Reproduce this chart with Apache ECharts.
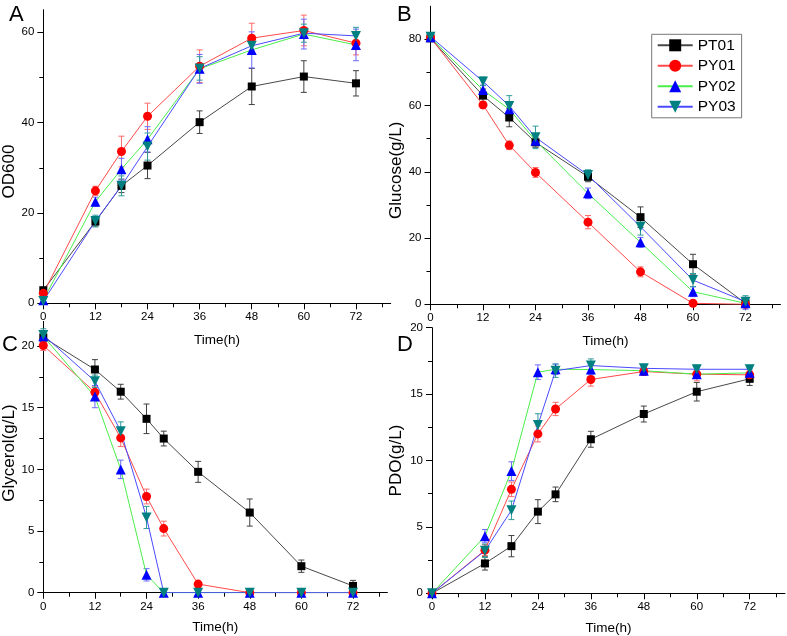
<!DOCTYPE html>
<html><head><meta charset="utf-8">
<script src="https://cdn.jsdelivr.net/npm/echarts@6/dist/echarts.min.js"></script>
<style>html,body{margin:0;padding:0;background:#fff}#c{width:787px;height:636px}</style>
</head><body><div id="c"></div>
<script>
const FONT = '"Liberation Sans", Arial, sans-serif';

// ---- data ----
const strains = ['PT01', 'PY01', 'PY02', 'PY03'];
const timesAB = [0, 12, 18, 24, 36, 48, 60, 72];
const timesCD = [0, 12, 18, 24, 28, 36, 48, 60, 72];
const xTickLabels = [0, 12, 24, 36, 48, 60, 72];
const xMinorTicks = [6, 18, 30, 42, 54, 66, 78];

// A: OD600
const odPT01 = [2.9, 18.1, 26.0, 30.5, 40.1, 48.0, 50.2, 48.7];
const odPY01 = [2.2, 24.9, 33.6, 41.4, 52.5, 58.7, 60.4, 57.6];
const odPY02 = [0.7, 22.5, 29.7, 36.3, 51.9, 56.1, 59.6, 57.2];
const odPY03 = [0.5, 18.2, 26.0, 34.7, 52.0, 57.0, 59.8, 59.2];
const odPT01Err = [0.5, 1.0, 1.5, 2.9, 2.5, 4.0, 3.5, 2.8];
const odPY01Err = [0.5, 1.0, 3.4, 2.9, 3.6, 3.3, 3.4, 2.6];
const odPY02Err = [0.5, 1.0, 2.4, 2.8, 3.2, 4.0, 3.3, 3.5];
const odPY03Err = [0.5, 1.3, 2.2, 3.0, 2.6, 1.5, 2.0, 1.9];

// B: Glucose
const gluPT01 = [80.3, 63.0, 56.4, 48.9, 38.5, 26.3, 12.1, 0.3];
const gluPY01 = [80.5, 60.2, 48.0, 39.8, 24.8, 9.8, 0.3, 0];
const gluPY02 = [80.6, 64.7, 58.9, 49.4, 33.5, 18.7, 3.8, 0.3];
const gluPY03 = [80.8, 67.3, 59.9, 50.4, 39.0, 23.4, 7.3, 0.8];
const gluPT01Err = [0.5, 2.0, 2.8, 1.5, 1.5, 3.1, 3.0, 0.8];
const gluPY01Err = [0.5, 1.0, 1.3, 1.5, 2.0, 1.5, 0.3, 0];
const gluPY02Err = [0.5, 1.5, 1.5, 1.5, 1.6, 1.5, 1.5, 1.8];
const gluPY03Err = [0.5, 1.3, 3.1, 3.4, 1.6, 2.5, 2.0, 1.8];

// C: Glycerol
const glyPT01 = [20.7, 18.1, 16.3, 14.1, 12.5, 9.8, 6.5, 2.15, 0.55];
const glyPY01 = [20.05, 16.25, 12.55, 7.8, 5.2, 0.7, 0, 0, 0];
const glyPY02 = [20.8, 15.9, 10.0, 1.45, 0, 0, 0, 0, 0];
const glyPY03 = [20.9, 17.15, 13.1, 6.1, 0, 0, 0, 0, 0];
const glyPT01Err = [0.4, 0.8, 0.6, 1.2, 0.6, 0.85, 1.1, 0.5, 0.45];
const glyPY01Err = [0.4, 0.5, 0.7, 0.6, 0.6, 0.2, 0, 0, 0];
const glyPY02Err = [0.4, 0.9, 0.75, 0.5, 0, 0, 0, 0, 0];
const glyPY03Err = [0.5, 0.5, 0.75, 0.9, 0, 0, 0, 0, 0];

// D: PDO
const pdoPT01 = [0, 2.25, 3.55, 6.15, 7.45, 11.6, 13.5, 15.18, 16.15];
const pdoPY01 = [0, 3.25, 7.83, 12.0, 13.88, 16.1, 16.7, 16.5, 16.45];
const pdoPY02 = [0, 4.3, 9.2, 16.65, 16.87, 16.85, 16.76, 16.5, 16.6];
const pdoPY03 = [0, 3.2, 6.25, 12.67, 16.76, 17.15, 16.94, 16.87, 16.87];
const pdoPT01Err = [0, 0.5, 0.8, 0.9, 0.55, 0.6, 0.6, 0.7, 0.5];
const pdoPY01Err = [0, 0.4, 0.55, 0.6, 0.5, 0.5, 0.3, 0.5, 0.3];
const pdoPY02Err = [0, 0.5, 0.7, 0.55, 0.4, 0.4, 0.3, 0.3, 0.3];
const pdoPY03Err = [0, 0.5, 0.7, 0.85, 0.5, 0.5, 0.3, 0.3, 0.3];

// y axis ticks
const yLabelsA = [0, 20, 40, 60], yMinorA = [10, 30, 50];
const yLabelsB = [0, 20, 40, 60, 80], yMinorB = [10, 30, 50, 70];
const yLabelsC = [0, 5, 10, 15, 20], yMinorC = [2.5, 7.5, 12.5, 17.5];
const yLabelsD = [0, 5, 10, 15, 20], yMinorD = [2.5, 7.5, 12.5, 17.5];

const panels = [
  { letter: 'A', times: timesAB, vals: [odPT01, odPY01, odPY02, odPY03], errs: [odPT01Err, odPY01Err, odPY02Err, odPY03Err], yMax: 65, yLabels: yLabelsA, yMinor: yMinorA, yName: 'OD600' },
  { letter: 'B', times: timesAB, vals: [gluPT01, gluPY01, gluPY02, gluPY03], errs: [gluPT01Err, gluPY01Err, gluPY02Err, gluPY03Err], yMax: 90, yLabels: yLabelsB, yMinor: yMinorB, yName: 'Glucose(g/L)' },
  { letter: 'C', times: timesCD, vals: [glyPT01, glyPY01, glyPY02, glyPY03], errs: [glyPT01Err, glyPY01Err, glyPY02Err, glyPY03Err], yMax: 22, yLabels: yLabelsC, yMinor: yMinorC, yName: 'Glycerol(g/L)' },
  { letter: 'D', times: timesCD, vals: [pdoPT01, pdoPY01, pdoPY02, pdoPY03], errs: [pdoPT01Err, pdoPY01Err, pdoPY02Err, pdoPY03Err], yMax: 20, yLabels: yLabelsD, yMinor: yMinorD, yName: 'PDO(g/L)' }
];

// ---- layout & style ----
const rects = [
  { left: 43.3, top: 9.7, width: 347.4, height: 293.6 },
  { left: 430.5, top: 6.2, width: 350, height: 298.1 },
  { left: 43.3, top: 321.4, width: 344.1, height: 271.3 },
  { left: 432, top: 327.7, width: 353, height: 265.6 }
];
const xNameGap = [30, 30, 28, 28];
const yNameGap = [21, 25, 25, 27];
const yNamePad = [[0, 30, 0, 0], [0, 30, 0, 0], [0, 0, 0, 8], [0, 0, 0, 0]];
const letterPos = [[9, 4], [397, 4], [2, 334], [397, 334]];

const lineColors = ['#484848', '#ff4a4a', '#4aee4a', '#4a4aff'];
const markerColors = ['#000000', '#ff0000', '#0000ff', '#008080'];
const errColors = ['#404040', '#ff6a6a', '#6a6aff', '#2f9a9a'];
const symbols = ['rect', 'circle', 'triangle', 'triangle'];
const symRot = [0, 0, 0, 180];
const symSize = [8, 9, 10, 10];

function errRender(params, api) {
  const x = api.value(0), y = api.value(1), e = api.value(2);
  if (!e) return null;
  const hi = api.coord([x, y + e]);
  const lo = api.coord([x, y - e]);
  const c = 3;
  const st = { stroke: api.visual('color'), lineWidth: 1, fill: null };
  return {
    type: 'group', children: [
      { type: 'line', shape: { x1: hi[0], y1: hi[1], x2: lo[0], y2: lo[1] }, style: st },
      { type: 'line', shape: { x1: hi[0] - c, y1: hi[1], x2: hi[0] + c, y2: hi[1] }, style: st },
      { type: 'line', shape: { x1: lo[0] - c, y1: lo[1], x2: lo[0] + c, y2: lo[1] }, style: st }
    ]
  };
}

const grids = [], xAxes = [], yAxes = [], series = [], graphics = [];
const axisTxt = { color: '#000', fontFamily: FONT, fontSize: 11.5 };

panels.forEach((p, i) => {
  const r = rects[i];
  grids.push(Object.assign({ outerBoundsMode: 'none', containLabel: false }, r));
  xAxes.push({
    type: 'value', gridIndex: i, min: 0, max: 80,
    axisLine: { show: true, onZero: false, lineStyle: { color: '#000', width: 1 } },
    axisTick: { show: true, inside: false, length: 6, customValues: xTickLabels, lineStyle: { color: '#000' } },
    axisLabel: Object.assign({ customValues: xTickLabels, margin: 8 }, axisTxt),
    splitLine: { show: false },
    name: 'Time(h)', nameLocation: 'middle', nameGap: xNameGap[i],
    nameTextStyle: { color: '#000', fontFamily: FONT, fontSize: 13.5 }
  });
  yAxes.push({
    type: 'value', gridIndex: i, min: 0, max: p.yMax,
    axisLine: { show: true, onZero: false, lineStyle: { color: '#000', width: 1 } },
    axisTick: { show: true, inside: false, length: 6, customValues: p.yLabels, lineStyle: { color: '#000' } },
    axisLabel: Object.assign({ customValues: p.yLabels, margin: 9 }, axisTxt),
    splitLine: { show: false },
    name: p.yName, nameLocation: 'middle', nameGap: yNameGap[i], nameRotate: 90,
    nameTextStyle: { color: '#000', fontFamily: FONT, fontSize: 17, padding: yNamePad[i] }
  });
  strains.forEach((s, k) => {
    const data = p.times.map((t, j) => [t, p.vals[k][j], p.errs[k][j]]);
    series.push({
      type: 'custom', name: s + ' error', xAxisIndex: i, yAxisIndex: i, z: 2,
      renderItem: errRender, itemStyle: { color: errColors[k] },
      encode: { x: 0, y: 1 }, data: data, clip: false, silent: true
    });
  });
  strains.forEach((s, k) => {
    const data = p.times.map((t, j) => [t, p.vals[k][j]]);
    series.push({
      type: 'line', name: s, xAxisIndex: i, yAxisIndex: i, z: 3,
      data: data, symbol: symbols[k], symbolRotate: symRot[k], symbolSize: symSize[k],
      showAllSymbol: true, animation: false,
      lineStyle: { color: lineColors[k], width: 1 },
      itemStyle: { color: markerColors[k] }
    });
  });
  graphics.push({
    type: 'text', left: letterPos[i][0], top: letterPos[i][1],
    style: { text: p.letter, fontFamily: FONT, fontSize: 22, fill: '#000' }
  });
});

// minor tick overlay grids
panels.forEach((p, i) => {
  const gi = 4 + i;
  grids.push(Object.assign({ outerBoundsMode: 'none', containLabel: false }, rects[i]));
  xAxes.push({
    type: 'value', gridIndex: gi, min: 0, max: 80,
    axisLine: { show: false, onZero: false },
    axisTick: { show: true, inside: false, length: 4, customValues: xMinorTicks, lineStyle: { color: '#000', width: 1 } },
    axisLabel: { show: false }, splitLine: { show: false }
  });
  yAxes.push({
    type: 'value', gridIndex: gi, min: 0, max: p.yMax,
    axisLine: { show: false, onZero: false },
    axisTick: { show: true, inside: false, length: 4, customValues: p.yMinor, lineStyle: { color: '#000', width: 1 } },
    axisLabel: { show: false }, splitLine: { show: false }
  });
});

const chart = echarts.init(document.getElementById('c'), null, { renderer: 'canvas' });
chart.setOption({
  animation: false,
  backgroundColor: '#fff',
  grid: grids, xAxis: xAxes, yAxis: yAxes, series: series, graphic: graphics,
  legend: {
    data: strains, orient: 'vertical', left: 651.7, top: 34.3,
    itemWidth: 35, itemHeight: 15, itemGap: 4.5, padding: [3, 6, 3, 5],
    borderColor: '#777', borderWidth: 1, backgroundColor: '#fff',
    textStyle: { color: '#000', fontFamily: FONT, fontSize: 15.5 },
    selectedMode: false
  }
});
</script></body></html>
